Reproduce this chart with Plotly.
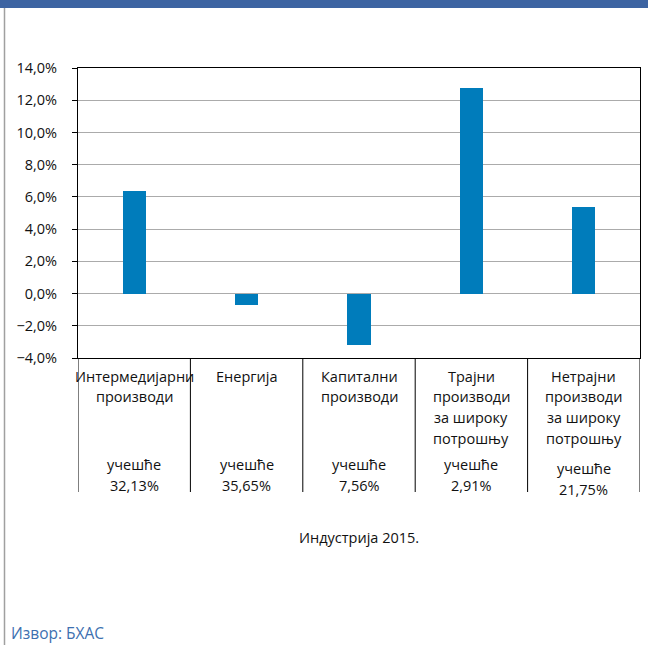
"""
Industrija 2015 - godisnja promjena po grupama proizvoda (bar chart), saved as out.html.
"""
import plotly.graph_objects as go

# data
categories = [
    ["Интермедијарни", "производи"],
    ["Енергија"],
    ["Капитални", "производи"],
    ["Трајни", "производи", "за широку", "потрошњу"],
    ["Нетрајни", "производи", "за широку", "потрошњу"],
]
change = [0.0635, -0.0074, -0.0320, 0.1273, 0.0540]
share_label = "учешће"
shares = ["32,13%", "35,65%", "7,56%", "2,91%", "21,75%"]
y_ticks = [-0.04, -0.02, 0.0, 0.02, 0.04, 0.06, 0.08, 0.10, 0.12, 0.14]
chart_title = "Индустрија 2015."
source_note = "Извор: БХАС"

W, H = 648, 645
L, R, T, B = 78, 8, 68, 287
PW, PH = W - L - R, H - T - B
BAR_COLOR = "#007cbb"
FONT = "Open Sans"
FS = 14.5


def px_y(py):
    # page pixel -> paper y
    return (H - B - py) / PH


def px_x(px):
    return (px - L) / PW


x_pos = list(range(len(categories)))

fig = go.Figure()
fig.add_trace(go.Bar(x=x_pos, y=change, width=0.205, marker_color=BAR_COLOR,
                     marker_line_width=0, showlegend=False, hoverinfo="skip"))

annotations = []
line_step = 20.7
for i, lines in enumerate(categories):
    for k, txt in enumerate(lines):
        annotations.append(dict(x=i, xref="x", y=px_y(376 + k * line_step), yref="paper",
                                text=txt, showarrow=False, xanchor="center", yanchor="middle",
                                font=dict(family=FONT, size=FS, color="#111")))
    base = 468 if i == len(categories) - 1 else 464.5
    annotations.append(dict(x=i, xref="x", y=px_y(base), yref="paper", text=share_label,
                            showarrow=False, xanchor="center", yanchor="middle",
                            font=dict(family=FONT, size=FS, color="#111")))
    annotations.append(dict(x=i, xref="x", y=px_y(base + 21), yref="paper", text=shares[i],
                            showarrow=False, xanchor="center", yanchor="middle",
                            font=dict(family=FONT, size=FS, color="#111")))

annotations.append(dict(x=0.5, xref="paper", y=px_y(537), yref="paper", text=chart_title,
                        showarrow=False, xanchor="center", yanchor="middle",
                        font=dict(family=FONT, size=FS, color="#111")))
annotations.append(dict(x=px_x(9), xref="paper", y=px_y(633), yref="paper", text=source_note,
                        showarrow=False, xanchor="left", yanchor="middle",
                        font=dict(family=FONT, size=15.5, color="#3d70b0")))

shapes = []
# vertical dividers under the plot between categories
for i in range(len(categories) + 1):
    shapes.append(dict(type="line", xref="x", yref="paper", x0=i - 0.5, x1=i - 0.5,
                       y0=0, y1=px_y(492), line=dict(color="#000", width=1)))
# top blue band and left frame line
shapes.append(dict(type="rect", xref="paper", yref="paper", x0=px_x(0), x1=px_x(W),
                   y0=px_y(0), y1=px_y(8), fillcolor="#3d64a2", line_width=0))
shapes.append(dict(type="line", xref="paper", yref="paper", x0=px_x(4.5), x1=px_x(4.5),
                   y0=px_y(8), y1=px_y(H), line=dict(color="#a0a0a0", width=1.5)))

fig.update_layout(
    width=W, height=H,
    margin=dict(l=L, r=R, t=T, b=B, pad=0),
    paper_bgcolor="white", plot_bgcolor="white",
    separators=",.",
    font=dict(family=FONT, size=FS, color="#111"),
    annotations=annotations, shapes=shapes,
    bargap=0,
)
fig.update_xaxes(range=[-0.5, len(categories) - 0.5], showticklabels=False, ticks="",
                 showgrid=False, zeroline=False, showline=True, mirror=True,
                 linecolor="#000", linewidth=1, fixedrange=True)
fig.update_yaxes(range=[y_ticks[0], y_ticks[-1]], tickvals=y_ticks, tickformat=".1%",
                 ticks="outside", ticklen=5, tickcolor="#000", ticklabelstandoff=12,
                 showgrid=True, gridcolor="#ababab", gridwidth=1,
                 zeroline=True, zerolinecolor="#ababab", zerolinewidth=1,
                 showline=True, mirror=True, linecolor="#000", linewidth=1,
                 tickfont=dict(family=FONT, size=FS, color="#111"), fixedrange=True)

# page body has an 8px margin by default; drop it so the figure fills the window
fig.write_html("out.html", config={"displayModeBar": False},
               post_script="document.body.style.margin='0';document.body.style.overflow='hidden';")
